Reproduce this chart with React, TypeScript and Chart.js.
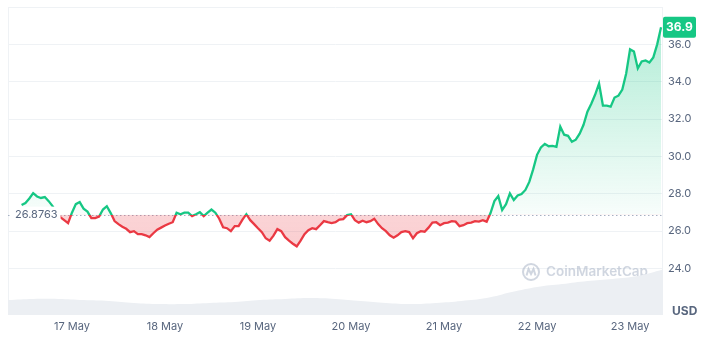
import { useEffect, useRef } from "react";
import { Chart, registerables } from "chart.js";

Chart.register(...registerables);

const BASELINE = 26.8763;
const PRICE_START_HOUR = -13; // hours relative to 17 May 00:00
const PRICE_STEP_HOURS = 1;
const PRICES = [
  27.39, 27.5, 27.74, 28.03, 27.85, 27.77, 27.82, 27.6, 27.33, 27.01, 26.74, 26.58, 26.42,
  26.98, 27.44, 27.55, 27.2, 27.04, 26.69, 26.69, 26.77, 27.15, 27.33, 26.96, 26.53, 26.37,
  26.23, 26.12, 25.94, 25.99, 25.83, 25.83, 25.77, 25.67, 25.88, 26.07, 26.18, 26.29, 26.39,
  26.47, 26.98, 26.9, 26.98, 26.98, 26.8, 26.9, 27.01, 26.8, 26.98, 27.15, 26.98, 26.66,
  26.2, 26.15, 25.99, 26.26, 26.26, 26.61, 26.9, 26.58, 26.37, 26.15, 25.94, 25.61, 25.48,
  25.75, 26.1, 25.99, 25.67, 25.48, 25.32, 25.18, 25.48, 25.83, 26.04, 26.15, 26.1, 26.31,
  26.53, 26.47, 26.42, 26.47, 26.61, 26.64, 26.85, 26.9, 26.58, 26.45, 26.55, 26.47, 26.53,
  26.66, 26.37, 26.15, 25.99, 25.77, 25.64, 25.77, 25.94, 25.99, 25.94, 25.61, 25.88, 25.99,
  25.96, 26.18, 26.45, 26.47, 26.31, 26.42, 26.45, 26.53, 26.5, 26.26, 26.31, 26.42, 26.45,
  26.53, 26.5, 26.58, 26.5, 26.96, 27.6, 27.87, 27.12, 27.44, 28.01, 27.66, 27.9, 27.98,
  28.2, 28.63, 29.3, 30.08, 30.48, 30.67, 30.54, 30.56, 30.51, 31.59, 31.16, 31.1, 30.78,
  30.89, 31.21, 31.69, 32.39, 32.82, 33.31, 33.9, 32.72, 32.72, 32.66, 33.15, 33.25, 33.58,
  34.44, 35.73, 35.62, 34.71, 35.08, 35.14, 35.03, 35.3, 36.0, 36.91,
];
const LAST_PRICE_LABEL = "36.9";

const VOLUME_START_HOUR = -16.5;
const VOLUME_STEP_HOURS = 6.5;
const VOLUMES = [
  9.7, 10.4, 10.4, 9.7, 9.1, 7.8, 7.1, 7.1, 7.8, 8.4, 9.7, 10.4, 11.0, 10.4, 9.1, 7.8, 7.1,
  7.8, 9.1, 11.0, 14.9, 18.2, 20.1, 22.1, 23.4, 25.3, 29.5,
];

const DAY_LABELS = ["17 May", "18 May", "19 May", "20 May", "21 May", "22 May", "23 May"];
const Y_TICKS = [24, 26, 28, 30, 32, 34, 36, 38];
const X_MIN = -16.5;
const X_MAX = 152.5;
const Y_MIN = 21.5;
const Y_MAX = 38;
const VOLUME_MAX = 200;

const GREEN = "#16c784";
const RED = "#ea3943";
const TEXT = "#58667e";
const GRID = "#eff2f5";
const FONT = "Inter, 'Noto Sans', sans-serif";

const cmcPlugin = {
  id: "cmcDecor",
  afterLayout(chart: any) {
    const { ctx, chartArea, scales } = chart;
    const t = chartArea.top;
    const b = chartArea.bottom;
    const yb = scales.y.getPixelForValue(BASELINE);
    const stop = Math.min(1, Math.max(0, (yb - t) / (b - t)));
    const lineGrad = ctx.createLinearGradient(0, t, 0, b);
    lineGrad.addColorStop(0, GREEN);
    lineGrad.addColorStop(stop, GREEN);
    lineGrad.addColorStop(stop, RED);
    lineGrad.addColorStop(1, RED);
    const above = ctx.createLinearGradient(0, t, 0, yb);
    above.addColorStop(0, "rgba(22,199,132,0.36)");
    above.addColorStop(1, "rgba(22,199,132,0.03)");
    const below = ctx.createLinearGradient(0, yb, 0, b);
    below.addColorStop(0, "rgba(234,57,67,0.22)");
    below.addColorStop(1, "rgba(234,57,67,0.3)");
    const ds = chart.data.datasets[0];
    ds.borderColor = lineGrad;
    ds.fill = { target: { value: BASELINE }, above, below };
  },
  beforeDatasetsDraw(chart: any) {
    const { ctx, chartArea, scales } = chart;
    ctx.save();
    // borders
    ctx.strokeStyle = GRID;
    ctx.lineWidth = 1;
    ctx.beginPath();
    ctx.moveTo(chartArea.left + 0.5, chartArea.top);
    ctx.lineTo(chartArea.left + 0.5, chartArea.bottom);
    ctx.moveTo(chartArea.right - 0.5, chartArea.top);
    ctx.lineTo(chartArea.right - 0.5, chartArea.bottom);
    ctx.stroke();
    // watermark
    const wy = chartArea.bottom - 43;
    const tx = chartArea.right - 15;
    ctx.font = `600 13.5px ${FONT}`;
    ctx.fillStyle = "rgba(170,180,198,0.55)";
    ctx.textAlign = "right";
    ctx.textBaseline = "middle";
    ctx.fillText("CoinMarketCap", tx, wy);
    const w = ctx.measureText("CoinMarketCap").width;
    const cx = tx - w - 15;
    ctx.strokeStyle = "rgba(170,180,198,0.55)";
    ctx.lineWidth = 2;
    ctx.beginPath();
    ctx.arc(cx, wy, 8, 0, Math.PI * 2);
    ctx.stroke();
    ctx.beginPath();
    ctx.moveTo(cx - 4.5, wy + 3.5);
    ctx.lineTo(cx - 2.5, wy - 3);
    ctx.lineTo(cx, wy + 2);
    ctx.lineTo(cx + 2.5, wy - 3);
    ctx.lineTo(cx + 4.5, wy + 3.5);
    ctx.stroke();
    // dotted baseline
    const yb = Math.round(scales.y.getPixelForValue(BASELINE)) + 0.5;
    ctx.strokeStyle = "#a6b0c3";
    ctx.lineWidth = 1;
    ctx.setLineDash([1.5, 2.5]);
    ctx.beginPath();
    ctx.moveTo(chartArea.left, yb);
    ctx.lineTo(chartArea.right, yb);
    ctx.stroke();
    ctx.restore();
  },
  afterDatasetsDraw(chart: any) {
    const { ctx, chartArea, scales } = chart;
    ctx.save();
    // baseline label
    const yb = scales.y.getPixelForValue(BASELINE);
    ctx.font = `11px ${FONT}`;
    const label = BASELINE.toString();
    const lw = ctx.measureText(label).width;
    const lx = chartArea.left + 7;
    ctx.fillStyle = "#ffffff";
    ctx.fillRect(lx - 3, yb - 8, lw + 6, 16);
    ctx.fillStyle = TEXT;
    ctx.textAlign = "left";
    ctx.textBaseline = "middle";
    ctx.fillText(label, lx, yb + 0.5);
    // last price tag
    const last = PRICES[PRICES.length - 1];
    const py = scales.y.getPixelForValue(last);
    const bx = chartArea.right;
    ctx.fillStyle = GREEN;
    ctx.beginPath();
    (ctx as any).roundRect(bx, py - 10.5, 33, 21, 2);
    ctx.fill();
    ctx.fillStyle = "#ffffff";
    ctx.font = `bold 12px ${FONT}`;
    ctx.textAlign = "center";
    ctx.fillText(LAST_PRICE_LABEL, bx + 16.5, py + 0.5);
    // USD
    ctx.fillStyle = TEXT;
    ctx.font = `bold 12px ${FONT}`;
    ctx.textAlign = "left";
    ctx.fillText("USD", chartArea.right + 9, chartArea.bottom - 4);
    ctx.restore();
  },
};

export default function App() {
  const ref = useRef<HTMLCanvasElement | null>(null);
  useEffect(() => {
    if (!ref.current) return;
    Chart.defaults.font.family = FONT;
    const priceData = PRICES.map((p, i) => ({ x: PRICE_START_HOUR + i * PRICE_STEP_HOURS, y: p }));
    const volumeData = VOLUMES.map((v, i) => ({ x: VOLUME_START_HOUR + i * VOLUME_STEP_HOURS, y: v }));
    const chart = new Chart(ref.current, {
      type: "line",
      data: {
        datasets: [
          {
            data: priceData,
            borderColor: GREEN,
            borderWidth: 2.3,
            pointRadius: 0,
            tension: 0,
            fill: { target: { value: BASELINE }, above: "rgba(22,199,132,0.2)", below: "rgba(234,57,67,0.2)" },
            yAxisID: "y",
            order: 0,
          } as any,
          {
            data: volumeData,
            borderWidth: 0,
            borderColor: "rgba(0,0,0,0)",
            backgroundColor: "#eceff3",
            pointRadius: 0,
            tension: 0.4,
            fill: "origin",
            yAxisID: "yv",
            order: 1,
          },
        ],
      },
      options: {
        animation: false,
        responsive: false,
        maintainAspectRatio: false,
        layout: { padding: { left: 8, top: 7, right: 0, bottom: 0 } },
        plugins: { legend: { display: false }, tooltip: { enabled: false } },
        scales: {
          x: {
            type: "linear",
            min: X_MIN,
            max: X_MAX,
            grid: { display: false, drawTicks: false },
            border: { display: false },
            afterBuildTicks: (s: any) => {
              s.ticks = DAY_LABELS.map((_, i) => ({ value: i * 24 }));
            },
            ticks: {
              autoSkip: false,
              maxRotation: 0,
              padding: 5,
              color: TEXT,
              font: { size: 11, family: FONT },
              callback: (v: any) => DAY_LABELS[Math.round(Number(v) / 24)] ?? "",
            },
            afterFit: (s: any) => {
              s.height = 42;
              s.paddingLeft = 0;
              s.paddingRight = 0;
            },
          },
          y: {
            position: "right",
            min: Y_MIN,
            max: Y_MAX,
            grid: { color: GRID, drawTicks: false },
            border: { display: false },
            afterBuildTicks: (s: any) => {
              s.ticks = Y_TICKS.map((v) => ({ value: v }));
            },
            ticks: {
              padding: 5,
              color: TEXT,
              font: { size: 11, family: FONT },
              callback: (v: any) => (Number(v) === Y_MAX ? "" : Number(v).toFixed(1)),
            },
            afterFit: (s: any) => {
              s.width = 47;
              s.paddingTop = 0;
              s.paddingBottom = 0;
            },
          },
          yv: { display: false, min: 0, max: VOLUME_MAX },
        },
      } as any,
      plugins: [cmcPlugin],
    });
    return () => chart.destroy();
  }, []);
  return (
    <div style={{ position: "absolute", left: 0, top: 0, width: 710, height: 357, background: "#fff" }}>
      <canvas ref={ref} width={710} height={357} style={{ display: "block", width: 710, height: 357 }} />
    </div>
  );
}
